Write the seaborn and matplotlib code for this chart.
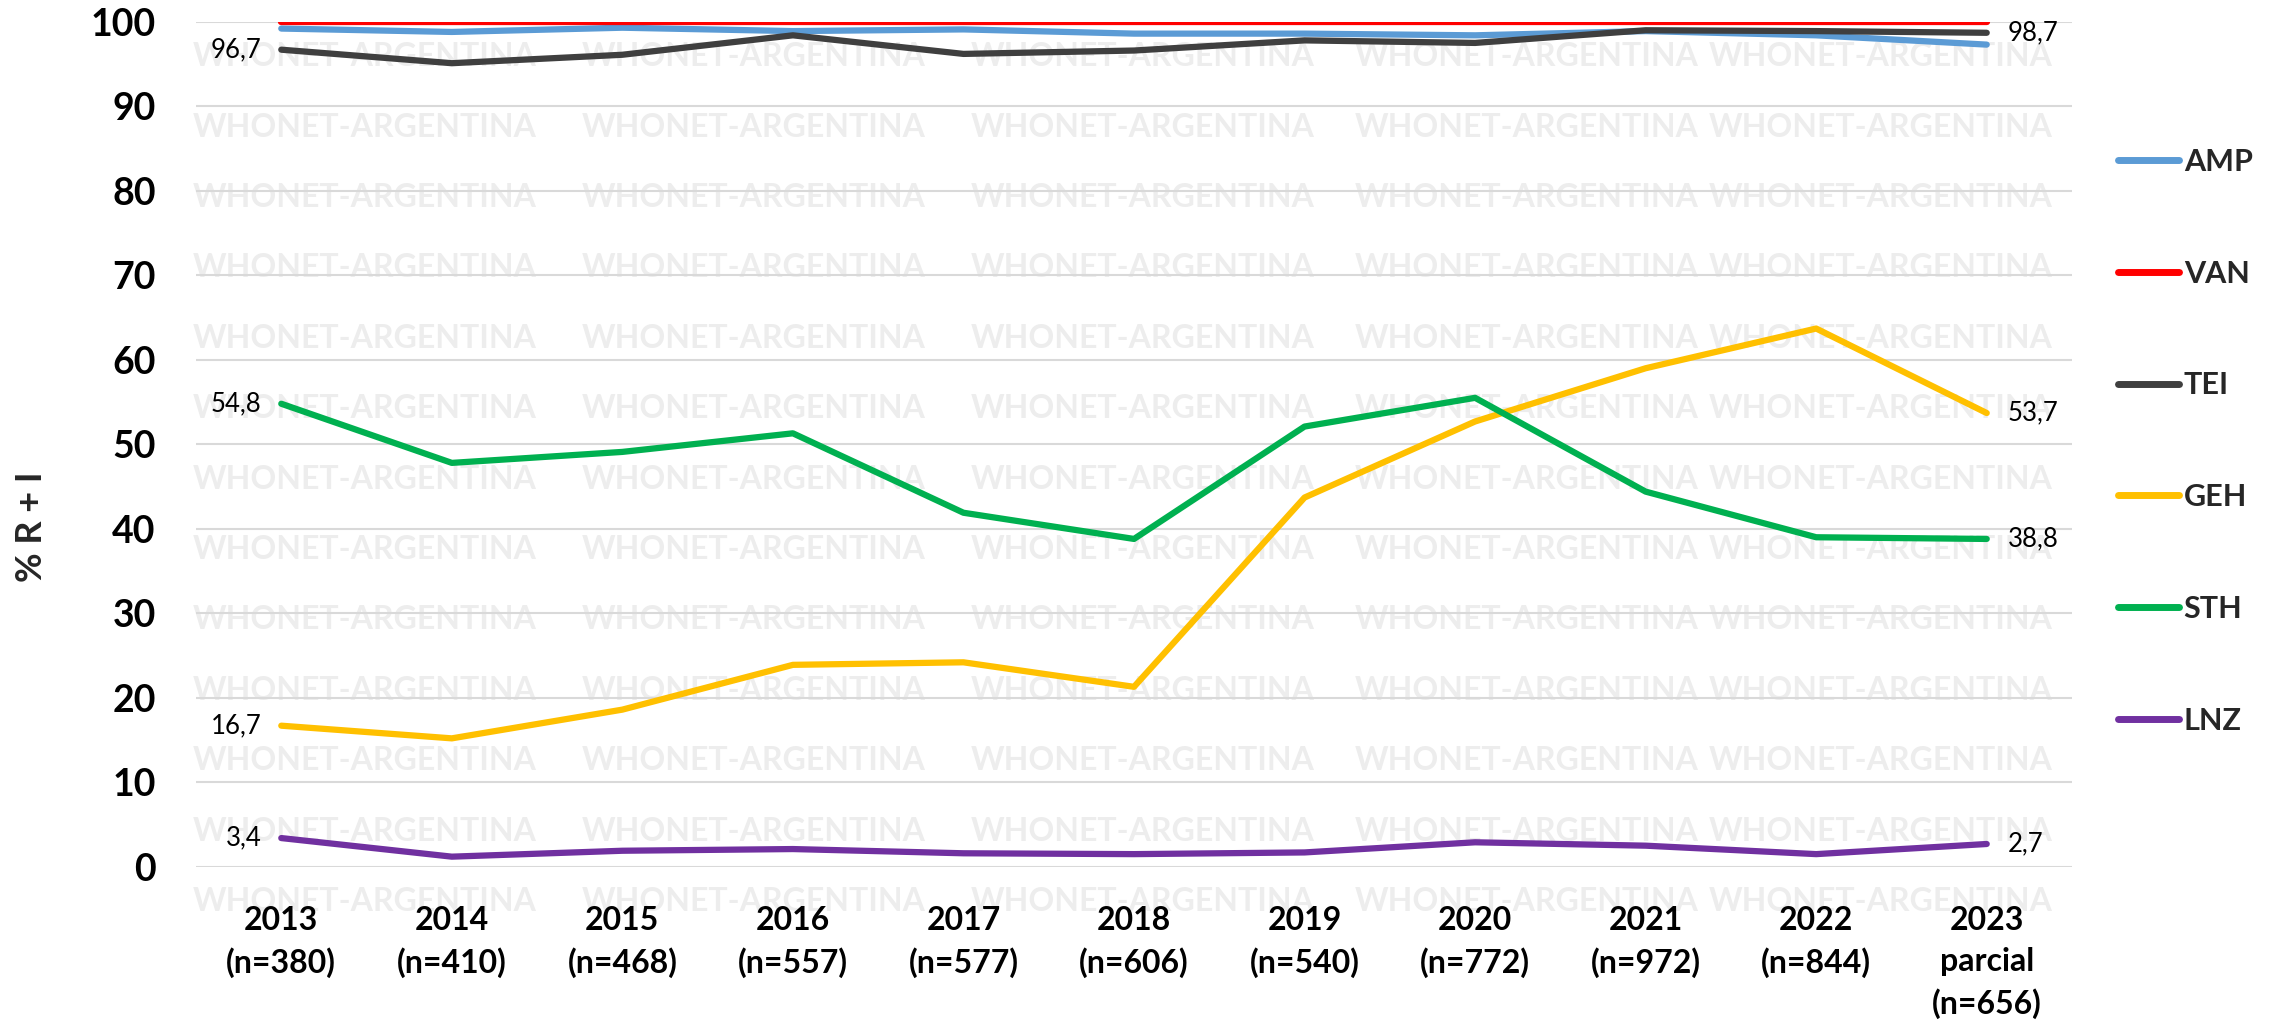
import matplotlib
matplotlib.use("Agg")
import matplotlib.pyplot as plt
from matplotlib import font_manager
import seaborn as sns
import pandas as pd

# ---------------- data ----------------
categories = ["2013\n(n=380)", "2014\n(n=410)", "2015\n(n=468)", "2016\n(n=557)",
              "2017\n(n=577)", "2018\n(n=606)", "2019\n(n=540)", "2020\n(n=772)",
              "2021\n(n=972)", "2022\n(n=844)", "2023\nparcial\n(n=656)"]
series_names = ["AMP", "VAN", "TEI", "GEH", "STH", "LNZ"]
AMP = [99.2, 98.8, 99.3, 98.9, 99.1, 98.6, 98.6, 98.4, 98.9, 98.4, 97.3]
VAN = [100, 100, 100, 100, 100, 100, 100, 100, 100, 100, 100]
TEI = [96.7, 95.1, 96.1, 98.4, 96.2, 96.6, 97.8, 97.5, 99.0, 98.9, 98.7]
GEH = [16.7, 15.2, 18.6, 23.9, 24.2, 21.3, 43.7, 52.7, 59.0, 63.7, 53.7]
STH = [54.8, 47.8, 49.1, 51.3, 41.9, 38.8, 52.1, 55.5, 44.4, 39.0, 38.8]
LNZ = [3.4, 1.2, 1.9, 2.1, 1.6, 1.5, 1.7, 2.9, 2.5, 1.5, 2.7]
labelled_series = ["TEI", "GEH", "STH", "LNZ"]
yticks = [0, 10, 20, 30, 40, 50, 60, 70, 80, 90, 100]
ylabel = "% R + I"
watermark = "WHONET-ARGENTINA"

colors = {"AMP": "#5B9BD5", "VAN": "#FF0000", "TEI": "#3F3F3F",
          "GEH": "#FFC000", "STH": "#00B050", "LNZ": "#7030A0"}

values = {"AMP": AMP, "VAN": VAN, "TEI": TEI, "GEH": GEH, "STH": STH, "LNZ": LNZ}
rows = []
for s in series_names:
    for c, v in zip(categories, values[s]):
        rows.append({"cat": c, "value": v, "serie": s})
df = pd.DataFrame(rows)

# ---------------- style ----------------
sns.set_theme(style="white")
avail = {f.name for f in font_manager.fontManager.ttflist}
fam = "Lato" if "Lato" in avail else ("Liberation Sans" if "Liberation Sans" in avail else "DejaVu Sans")
plt.rcParams["font.family"] = [fam, "DejaVu Sans"]

W, H = 2274, 1032
fig = plt.figure(figsize=(W / 100, H / 100), dpi=100)
ax = fig.add_axes([196 / W, 1 - 866.8 / H, (2072 - 196) / W, (866.8 - 21.8) / H])

# watermark (figure level, behind lines)
wm_fs = 22
t = fig.text(0, 0, watermark, fontsize=wm_fs, fontweight="bold")
fig.canvas.draw()
w = t.get_window_extent().width
t.remove()
wm_fs = wm_fs * 343 / w
col_x = [193, 582, 971, 1355, 1709]
for k in range(13):
    yc = 56.7 + 70.4 * k
    for xc in col_x:
        fig.text(xc / W, 1 - yc / H, watermark, fontsize=wm_fs, fontweight="bold",
                 color="#EDEDED", ha="left", va="center", zorder=0.5)

ax.set_facecolor("none")
ax.set_zorder(2)

sns.lineplot(data=df, x="cat", y="value", hue="serie", hue_order=series_names,
             palette=colors, linewidth=4.5, sort=False, estimator=None, ax=ax)

ax.set_xlim(-0.5, len(categories) - 0.5)
ax.set_ylim(0, 100)
ax.set_yticks(yticks)
ax.set_yticklabels([str(v) for v in yticks], fontsize=27, fontweight="bold")
ax.set_xticks(range(len(categories)))
ax.set_xticklabels(categories, fontsize=23, fontweight="bold", linespacing=1.5)
ax.tick_params(axis="y", length=0, pad=29, colors="black")
ax.tick_params(axis="x", length=0, pad=28, colors="black")
ax.grid(axis="y", color="#D9D9D9", linewidth=1.5)
ax.grid(axis="x", visible=False)
for sp in ax.spines.values():
    sp.set_visible(False)
ax.set_xlabel("")
ax.set_ylabel("")

fig.text(31 / W, 1 - 527 / H, ylabel, rotation=90, fontsize=26, fontweight="bold",
         ha="center", va="center")

# data labels at first and last point
def fmt(v):
    return f"{v:.1f}".replace(".", ",")

for s in labelled_series:
    vals = values[s]
    ax.annotate(fmt(vals[0]), (0, vals[0]), xytext=(-14, 0), textcoords="offset points",
                ha="right", va="center", fontsize=18.5, color="black", annotation_clip=False)
    ax.annotate(fmt(vals[-1]), (len(categories) - 1, vals[-1]), xytext=(15, 0),
                textcoords="offset points", ha="left", va="center", fontsize=18.5,
                color="black", annotation_clip=False)

# legend
handles, labels = ax.get_legend_handles_labels()
if ax.get_legend() is not None:
    ax.get_legend().remove()
for h in handles:
    h.set_linewidth(5)
leg = fig.legend(handles, labels, loc="upper left", bbox_to_anchor=(2118 / W, 1 - 148 / H),
                 frameon=False, fontsize=22, handlelength=2.0, handletextpad=0.15,
                 labelspacing=2.74, borderpad=0, borderaxespad=0)
for txt in leg.get_texts():
    txt.set_fontweight("bold")

fig.savefig("out.png", dpi=100)
